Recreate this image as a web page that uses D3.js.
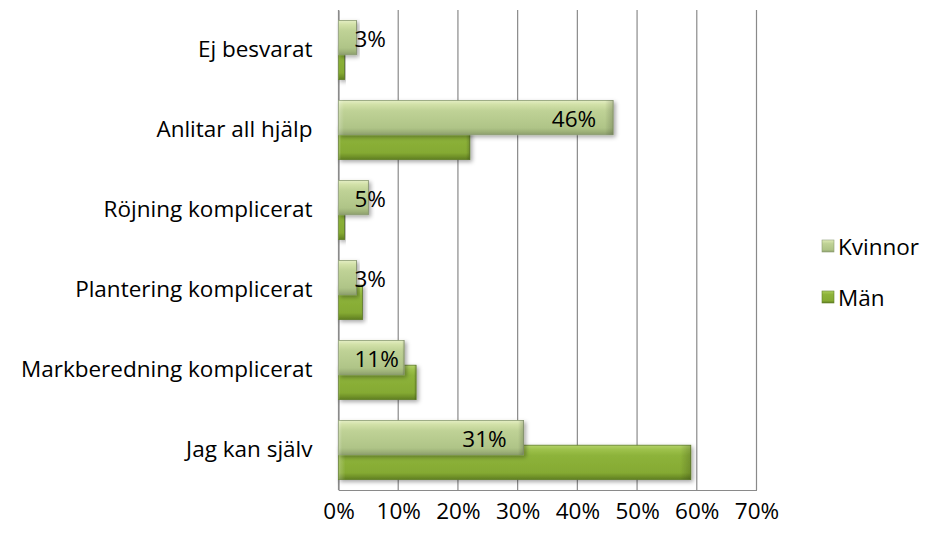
<!DOCTYPE html>
<html>
<head>
<meta charset="utf-8">
<script src="https://cdn.jsdelivr.net/npm/d3@7"></script>
<style>
  body { margin: 0; background: #fff; }
  svg { font-family: "Open Sans", sans-serif; }
</style>
</head>
<body>
<div id="vis"></div>
<script>
// survey answers, top to bottom as in the chart
const categories = ["Ej besvarat", "Anlitar all hjälp", "Röjning komplicerat",
  "Plantering komplicerat", "Markberedning komplicerat", "Jag kan själv"];
const kvinnor = [3, 46, 5, 3, 11, 31];
const man = [1, 22, 1, 4, 13, 59];
const seriesNames = ["Kvinnor", "Män"];
const xTicks = [0, 10, 20, 30, 40, 50, 60, 70];

const width = 930, height = 535;
const margin = {left: 338.5, right: 173.5, top: 10, bottom: 45};
const fontSize = 22.5;

const svg = d3.select("#vis").append("svg")
  .attr("width", width)
  .attr("height", height);

const defs = svg.append("defs");

function grad(id, stops) {
  const g = defs.append("linearGradient").attr("id", id)
    .attr("x1", 0).attr("y1", 0).attr("x2", 0).attr("y2", 1);
  stops.forEach(s => g.append("stop").attr("offset", s[0]).attr("stop-color", s[1]));
}
grad("gK", [[0, "#e4eec4"], [0.12, "#d2e1a8"], [0.3, "#bfd296"], [0.8, "#afc487"], [0.9, "#9fb37a"], [1, "#8c9e6c"]]);
grad("gM", [[0, "#b4d26a"], [0.12, "#9ec24c"], [0.3, "#8db33a"], [0.8, "#85aa33"], [0.9, "#73952a"], [1, "#5f7d22"]]);

// side shading for bevel look
const side = defs.append("linearGradient").attr("id", "side")
  .attr("x1", 0).attr("y1", 0).attr("x2", 1).attr("y2", 0);
side.append("stop").attr("offset", 0).attr("stop-color", "#fff").attr("stop-opacity", 0.25);
side.append("stop").attr("offset", 0.02).attr("stop-color", "#fff").attr("stop-opacity", 0);
side.append("stop").attr("offset", 0.97).attr("stop-color", "#000").attr("stop-opacity", 0);
side.append("stop").attr("offset", 1).attr("stop-color", "#000").attr("stop-opacity", 0.18);

const shadow = defs.append("filter").attr("id", "shadow")
  .attr("x", "-10%").attr("y", "-20%").attr("width", "130%").attr("height", "160%");
shadow.append("feDropShadow").attr("dx", 2).attr("dy", 2).attr("stdDeviation", 2)
  .attr("flood-color", "#000").attr("flood-opacity", 0.35);

const x = d3.scaleLinear()
  .domain([0, 70])
  .range([margin.left, width - margin.right]);

const y = d3.scaleBand()
  .domain(categories)
  .range([margin.top, height - margin.bottom]);

const g = svg.append("g").attr("id", "bar-chart");

// vertical gridlines
g.append("g")
  .selectAll("line")
  .data(xTicks)
  .join("line")
  .attr("x1", d => x(d)).attr("x2", d => x(d))
  .attr("y1", margin.top).attr("y2", height - margin.bottom)
  .attr("stroke", "#8a8a8a")
  .attr("stroke-width", 1.2);

// bottom axis
const xAxis = g.append("g")
  .attr("transform", `translate(0, ${height - margin.bottom})`)
  .call(d3.axisBottom(x).tickValues(xTicks).tickFormat(d => d + "%").tickSize(0).tickPadding(13));
xAxis.select(".domain").attr("stroke", "#8a8a8a").attr("stroke-width", 1.2);
xAxis.selectAll("text").attr("font-size", fontSize).attr("fill", "#000")
  .attr("font-family", "'Open Sans', sans-serif");

// left axis labels
const yAxis = g.append("g")
  .attr("transform", `translate(${margin.left}, 0)`)
  .call(d3.axisLeft(y).tickSize(0).tickPadding(26));
yAxis.select(".domain").attr("stroke", "#8a8a8a").attr("stroke-width", 1.2);
yAxis.selectAll("text").attr("font-size", fontSize).attr("fill", "#000")
  .attr("font-family", "'Open Sans', sans-serif");

const barH = y.bandwidth() * 0.43;
const step = y.bandwidth() * 0.26;

function drawBars(values, cls, fill, offset) {
  const bars = g.append("g").attr("class", cls)
    .selectAll("g")
    .data(values.map((v, i) => ({cat: categories[i], v})))
    .join("g")
    .attr("filter", "url(#shadow)");
  bars.append("rect")
    .attr("x", x(0))
    .attr("y", d => y(d.cat) + y.bandwidth() / 2 + offset - barH / 2)
    .attr("width", d => x(d.v) - x(0))
    .attr("height", barH)
    .attr("fill", fill)
    .attr("stroke", cls === "kv" ? "#8d9d74" : "#62802a")
    .attr("stroke-width", 0.8);
  bars.append("rect")
    .attr("x", x(0))
    .attr("y", d => y(d.cat) + y.bandwidth() / 2 + offset - barH / 2)
    .attr("width", d => x(d.v) - x(0))
    .attr("height", barH)
    .attr("fill", "url(#side)");
}

// Män drawn first, Kvinnor overlaps on top
drawBars(man, "ma", "url(#gM)", step / 2 + 2);
drawBars(kvinnor, "kv", "url(#gK)", -step / 2 - 2);

// value labels in Kvinnor bars
g.append("g")
  .selectAll("text")
  .data(kvinnor.map((v, i) => ({cat: categories[i], v})))
  .join("text")
  .attr("font-size", fontSize)
  .attr("fill", "#000")
  .attr("dominant-baseline", "central")
  .attr("y", d => y(d.cat) + y.bandwidth() / 2 - step / 2 - 2 + 1)
  .text(d => d.v + "%")
  .attr("x", function(d) {
    const w = this.getComputedTextLength();
    return Math.max(x(d.v) - 17 - w, x(0) + 16);
  });

// legend
const legend = svg.append("g").attr("transform", "translate(822, 246)");
const legendFill = ["url(#gK)", "url(#gM)"];
legend.selectAll("g")
  .data(seriesNames)
  .join("g")
  .attr("transform", (d, i) => `translate(0, ${i * 51})`)
  .each(function(d, i) {
    const it = d3.select(this);
    it.append("rect").attr("x", 0).attr("y", -6).attr("width", 12).attr("height", 12)
      .attr("fill", legendFill[i]).attr("stroke", i ? "#62802a" : "#8d9d74").attr("stroke-width", 0.6);
    it.append("text").attr("x", 16).attr("dominant-baseline", "central")
      .attr("font-size", fontSize).attr("fill", "#000").text(d);
  });
</script>
</body>
</html>
